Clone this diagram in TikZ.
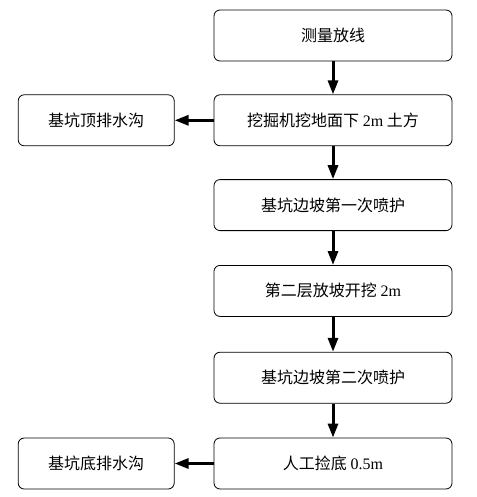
\documentclass[tikz,border=0pt]{standalone}
\usepackage{fontspec}
\setmainfont{Liberation Serif}
\newfontfamily\cjk{Noto Sans CJK SC}
\usetikzlibrary{positioning,arrows.meta}
\newcommand{\lat}[1]{{\rmfamily #1}}
\begin{document}
\begin{tikzpicture}[x=1pt, y=-1pt, font=\cjk\fontsize{16}{19}\selectfont, line join=round, >={Triangle[width=10pt,length=14pt]},
  stepbox/.style={draw, rounded corners=6pt, line width=.8pt, minimum width=238pt, minimum height=51pt, inner sep=0pt},
  sidebox/.style={stepbox, minimum width=156pt},
  flow/.style={->, line width=3pt},
  node distance=33pt]
\useasboundingbox (0,0) rectangle (476,497);
\node[stepbox] (survey) at (333,35.5) {测量放线};
\node[stepbox, below=of survey] (dig) {挖掘机挖地面下 \lat{2m} 土方};
\node[stepbox, below=of dig] (spray1) {基坑边坡第一次喷护};
\node[stepbox, below=34pt of spray1] (slope) {第二层放坡开挖 \lat{2m}};
\node[stepbox, below=35pt of slope] (spray2) {基坑边坡第二次喷护};
\node[stepbox, below=34pt of spray2] (clean) {人工捡底 \lat{0.5m}};
\node[sidebox, left=39pt of dig] (topditch) {基坑顶排水沟};
\node[sidebox, left=39pt of clean] (botditch) {基坑底排水沟};
\draw[flow] (survey) -- (dig);
\draw[flow] (dig) -- (spray1);
\draw[flow] (spray1) -- (slope);
\draw[flow] (slope) -- (spray2);
\draw[flow] (spray2) -- (clean);
\draw[flow] (dig) -- (topditch);
\draw[flow] (clean) -- (botditch);
\end{tikzpicture}
\end{document}
